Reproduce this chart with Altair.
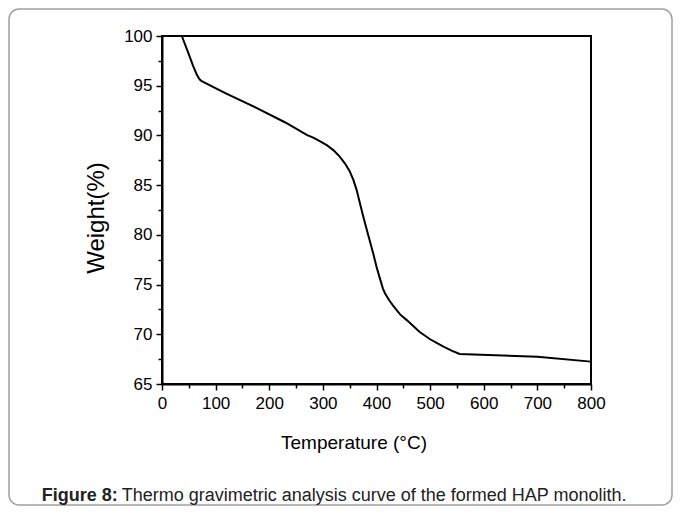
import altair as alt
import pandas as pd

# Thermo gravimetric analysis curve
temperature = [37, 49, 58, 65, 70, 74, 120, 177, 230, 270, 283, 295, 308, 320,
               331, 341, 350, 357, 363, 369, 375, 382, 394, 400, 407, 412, 416,
               424, 432, 444, 457, 466, 480, 500, 513, 525, 540, 555, 700, 800]
weight = [100, 98.3, 97.0, 96.1, 95.65, 95.45, 94.2, 92.75, 91.3, 90.05, 89.75,
          89.4, 89.0, 88.5, 87.9, 87.2, 86.4, 85.5, 84.5, 83.2, 81.9, 80.5, 78.1,
          76.8, 75.5, 74.6, 74.1, 73.4, 72.8, 72.0, 71.4, 70.95, 70.25, 69.5,
          69.1, 68.75, 68.35, 68.02, 67.75, 67.25]

x_ticks = [0, 50, 100, 150, 200, 250, 300, 350, 400, 450, 500, 550, 600, 650, 700, 750, 800]
y_ticks = [65, 67.5, 70, 72.5, 75, 77.5, 80, 82.5, 85, 87.5, 90, 92.5, 95, 97.5, 100]

x_title = "Temperature (°C)"
y_title = "Weight(%)"
caption_bold = "Figure 8:"
caption_text = "Thermo gravimetric analysis curve of the formed HAP monolith."

df = pd.DataFrame({"temperature": temperature, "weight": weight})
one = pd.DataFrame({"k": [0]})

FONT = "Liberation Sans"

x_axis = alt.Axis(
    values=x_ticks,
    labelExpr="datum.value % 100 === 0 ? datum.label : ''",
    tickSize={"condition": {"test": "datum.value % 100 === 0", "value": 6}, "value": 4},
    grid=False, domainColor="black", domainWidth=2, tickColor="black", tickWidth=1.5,
    labelFont=FONT, labelFontSize=17, labelColor="black", labelPadding=5,
    labelFlush=False, labelOverlap=False,
    title=x_title, titleFont=FONT, titleFontSize=19, titleFontWeight="normal",
    titleColor="black", titleX=191.5, titleY=64, titleAlign="center",
    titleBaseline="alphabetic",
)
y_axis = alt.Axis(
    values=y_ticks,
    labelExpr="datum.value % 5 === 0 ? datum.label : ''",
    tickSize={"condition": {"test": "datum.value % 5 === 0", "value": 6}, "value": 4},
    grid=False, domainColor="black", domainWidth=2, tickColor="black", tickWidth=1.5,
    labelFont=FONT, labelFontSize=17, labelColor="black", labelPadding=4,
    labelFlush=False, labelOverlap=False,
    title=y_title, titleFont=FONT, titleFontSize=24, titleFontWeight="normal",
    titleColor="black", titleX=-65.3, titleY=181.5, titleAlign="center",
    titleBaseline="middle", titleAngle=270,
)

line = alt.Chart(df).mark_line(color="black", strokeWidth=2).encode(
    x=alt.X("temperature:Q", scale=alt.Scale(domain=[0, 800], nice=False, zero=False), axis=x_axis),
    y=alt.Y("weight:Q", scale=alt.Scale(domain=[65, 100], nice=False, zero=False), axis=y_axis),
)

border = alt.Chart(one).mark_rect(
    fill=None, fillOpacity=0, stroke="#a0a0a0", strokeWidth=1.5, cornerRadius=10
).encode(
    x=alt.value(-153), x2=alt.value(510), y=alt.value(-27), y2=alt.value(469)
)

cap1 = alt.Chart(one).mark_text(
    font=FONT, fontSize=18, fontWeight="bold", align="left", baseline="alphabetic", color="#222"
).encode(x=alt.value(-120.3), y=alt.value(465), text=alt.value(caption_bold))

cap2 = alt.Chart(one).mark_text(
    font=FONT, fontSize=18, align="left", baseline="alphabetic", color="#222"
).encode(x=alt.value(-40.3), y=alt.value(465), text=alt.value(caption_text))

chart = alt.layer(border, line, cap1, cap2).properties(
    width=429, height=348,
    autosize=alt.AutoSizeParams(type="none"),
    padding={"left": 154, "top": 28, "right": 82, "bottom": 122},
    background="white",
).configure_view(stroke="black", strokeWidth=2)

chart.save("out.html", embed_options={"renderer": "svg", "actions": False})
